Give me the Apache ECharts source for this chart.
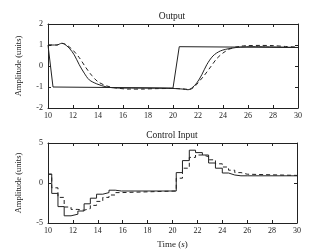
<!DOCTYPE html>
<html>
<head>
<meta charset="utf-8">
<script src="https://cdn.jsdelivr.net/npm/echarts@6/dist/echarts.min.js"></script>
<style>
  html, body { margin: 0; padding: 0; background: #fff; }
  #main { width: 334px; height: 250px; }
</style>
</head>
<body>
<div id="main"></div>
<script>
// 输出 - 参考信号
var refT = [10, 10.4, 20, 20.5, 30];
var refY = [1, -1, -1.05, 0.92, 0.88];
// 输出 - 实线
var outT = [10, 10.7, 11.1, 11.3, 11.7, 12.1, 12.5, 12.9, 13.3, 13.9, 14.7, 15.7, 17, 20, 20.8, 21.2, 21.5, 21.9, 22.3, 22.7, 23.2, 23.8, 24.6, 25.4, 26.4, 30];
var outY = [1, 1, 1.08, 1.05, 0.85, 0.53, 0.06, -0.34, -0.66, -0.85, -1.0, -1.05, -1.05, -1.07, -1.1, -1.13, -1.05, -0.81, -0.42, 0.06, 0.48, 0.72, 0.84, 0.9, 0.92, 0.88];
// 输出 - 虚线
var outDT = [10, 10.7, 11.1, 11.5, 12, 12.5, 13, 13.5, 14, 14.7, 15.5, 16.5, 17.5, 18.5, 20, 21, 21.3, 21.7, 22, 22.5, 23, 23.5, 24, 24.5, 25, 25.5, 26, 27, 28, 29, 30];
var outDY = [1, 1, 1.08, 1.0, 0.75, 0.4, -0.05, -0.45, -0.75, -0.95, -1.05, -1.1, -1.1, -1.08, -1.07, -1.1, -1.12, -1.0, -0.8, -0.45, -0.05, 0.35, 0.62, 0.8, 0.9, 0.95, 0.97, 0.98, 0.97, 0.93, 0.9];
// 控制输入 (阶梯)
var ctrlT = [10, 10.3, 10.8, 11.3, 11.85, 12.4, 12.9, 13.4, 13.9, 14.4, 14.9, 15.4, 15.9, 20.3, 20.8, 21.35, 21.85, 22.4, 22.9, 23.45, 24.0, 24.5, 25.0, 25.5, 26.0, 30];
var ctrlY = [1.1, -1.3, -2.95, -4.1, -3.9, -3.5, -2.6, -1.9, -1.4, -1.2, -0.9, -1.0, -1.0, 1.3, 2.8, 4.1, 3.8, 3.5, 2.5, 1.85, 1.25, 1.0, 0.9, 0.9, 0.9, 0.9];
var ctrlDY = [1.1, -0.6, -1.8, -3.0, -3.3, -3.4, -3.2, -2.8, -2.3, -1.8, -1.5, -1.2, -1.0, 0.6, 1.85, 3.2, 3.5, 3.3, 2.9, 2.4, 2.0, 1.6, 1.3, 1.1, 0.95, 0.9];

var font = 'Liberation Serif';
var ink = '#222';

function pairs(t, y) {
  return t.map(function (v, i) { return [v, y[i]]; });
}

// 主坐标轴 + 对面一侧只画刻度
function xAx(grid, pos, label, name) {
  return {
    type: 'value', gridIndex: grid, position: pos, min: 10, max: 30, interval: 2,
    name: name || '', nameLocation: 'middle', nameGap: 17,
    nameTextStyle: { fontFamily: font, fontSize: 9, color: ink, rich: { i: { fontFamily: font, fontSize: 9, fontStyle: 'italic', color: ink } } },
    axisLine: { show: true, onZero: false, lineStyle: { color: ink, width: 1 } },
    axisTick: { show: true, inside: true, length: 3, lineStyle: { color: ink } },
    axisLabel: { show: label, fontFamily: font, fontSize: 8, color: ink, margin: 4 },
    splitLine: { show: false }
  };
}
function yAx(grid, pos, label, lo, hi, step) {
  return {
    type: 'value', gridIndex: grid, position: pos, min: lo, max: hi, interval: step,
    name: label ? 'Amplitude (units)' : '', nameLocation: 'middle', nameGap: 25,
    nameTextStyle: { fontFamily: font, fontSize: 8.5, color: ink },
    axisLine: { show: true, onZero: false, lineStyle: { color: ink, width: 1 } },
    axisTick: { show: true, inside: true, length: 3, lineStyle: { color: ink } },
    axisLabel: { show: label, fontFamily: font, fontSize: 8, color: ink, margin: 5 },
    splitLine: { show: false }
  };
}

var solid = { color: ink, width: 1 };
var dashed = { color: ink, width: 1, type: [4, 3] };

var myChart = echarts.init(document.getElementById('main'));
var option = {
  animation: false,
  backgroundColor: '#fff',
  title: [
    { text: 'Output', left: 172, top: 11, padding: 0, textAlign: 'center', textStyle: { fontFamily: font, fontSize: 9.5, fontWeight: 'normal', color: ink } },
    { text: 'Control Input', left: 172, top: 130, padding: 0, textAlign: 'center', textStyle: { fontFamily: font, fontSize: 9.5, fontWeight: 'normal', color: ink } }
  ],
  grid: [
    { left: 48, right: 36, top: 24, height: 84 },
    { left: 48, right: 37, top: 143, height: 81 }
  ],
  xAxis: [
    xAx(0, 'bottom', true),
    xAx(0, 'top', false),
    xAx(1, 'bottom', true, 'Time ({i|s})'),
    xAx(1, 'top', false)
  ],
  yAxis: [
    yAx(0, 'left', true, -2, 2, 1),
    yAx(0, 'right', false, -2, 2, 1),
    yAx(1, 'left', true, -5, 5, 5),
    yAx(1, 'right', false, -5, 5, 5)
  ],
  series: [
    { type: 'line', xAxisIndex: 0, yAxisIndex: 0, data: pairs(refT, refY), showSymbol: false, lineStyle: solid },
    { type: 'line', xAxisIndex: 0, yAxisIndex: 0, data: pairs(outT, outY), showSymbol: false, smooth: 0.3, lineStyle: solid },
    { type: 'line', xAxisIndex: 0, yAxisIndex: 0, data: pairs(outDT, outDY), showSymbol: false, smooth: 0.3, lineStyle: dashed },
    { type: 'line', xAxisIndex: 2, yAxisIndex: 2, data: pairs(ctrlT, ctrlY), showSymbol: false, step: 'end', lineStyle: solid },
    { type: 'line', xAxisIndex: 2, yAxisIndex: 2, data: pairs(ctrlT, ctrlDY), showSymbol: false, step: 'end', lineStyle: dashed }
  ]
};
myChart.setOption(option);
</script>
</body>
</html>
